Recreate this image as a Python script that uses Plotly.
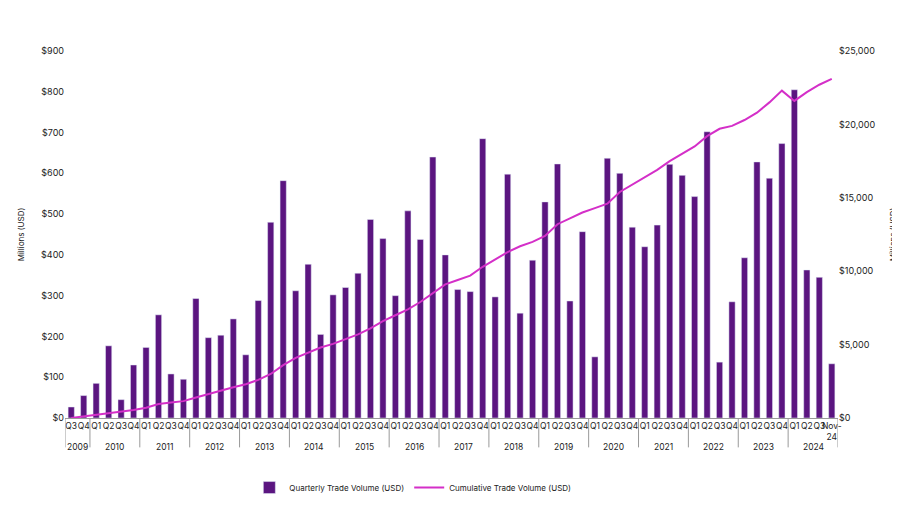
import plotly.graph_objects as go

years = ["2009"] * 2 + [str(y) for y in range(2010, 2024) for _ in range(4)] + ["2024"] * 4
quarters = ["Q3", "Q4"] + ["Q1", "Q2", "Q3", "Q4"] * 14 + ["Q1", "Q2", "Q3", "Nov-<br>24"]

quarterly = [27, 55,
             85, 177, 45, 130,
             173, 253, 108, 95,
             293, 197, 203, 243,
             155, 288, 480, 582,
             312, 377, 205, 302,
             320, 355, 487, 440,
             300, 508, 438, 640,
             400, 315, 310, 685,
             297, 598, 257, 387,
             530, 623, 287, 457,
             150, 637, 600, 468,
             420, 473, 622, 595,
             543, 702, 137, 285,
             393, 628, 588, 673,
             805, 363, 345, 133]

cumulative = [0, 100,
              200, 350, 450, 550,
              700, 950, 1050, 1150,
              1400, 1650, 1900, 2100,
              2300, 2600, 3000, 3600,
              4100, 4450, 4800, 5050,
              5350, 5700, 6100, 6600,
              7000, 7400, 7900, 8500,
              9100, 9400, 9700, 10300,
              10800, 11300, 11700, 12000,
              12400, 13200, 13600, 14000,
              14300, 14600, 15400, 15900,
              16400, 16900, 17500, 18000,
              18500, 19200, 19700, 19900,
              20300, 20800, 21500, 22300,
              21600, 22200, 22700, 23100]

idx = list(range(len(quarters)))

fig = go.Figure()
fig.add_trace(go.Bar(x=idx, y=quarterly, name="Quarterly Trade Volume (USD)",
                     marker_color="#5b1580", width=0.5))
fig.add_trace(go.Scatter(x=idx, y=cumulative, name="Cumulative Trade Volume (USD)",
                         mode="lines", line=dict(color="#d42fc8", width=2), yaxis="y2"))

# year labels and dividers under the quarter labels
groups = {}
for i, y in enumerate(years):
    groups.setdefault(y, []).append(i)
for y, ii in groups.items():
    fig.add_annotation(x=(ii[0] + ii[-1]) / 2, y=0, xref="x", yref="paper", yshift=-22,
                       text=y, showarrow=False, font=dict(size=8.5), yanchor="top")
    fig.add_shape(type="line", xref="x", yref="paper", x0=ii[0] - 0.5, x1=ii[0] - 0.5,
                  y0=0, y1=-0.08, line=dict(color="#999", width=1))
fig.add_shape(type="line", xref="x", yref="paper", x0=idx[-1] + 0.5, x1=idx[-1] + 0.5,
              y0=0, y1=-0.08, line=dict(color="#999", width=1))

fig.update_layout(
    width=900, height=506,
    margin=dict(l=43, r=68, t=43, b=75),
    plot_bgcolor="white", paper_bgcolor="white",
    font=dict(family="Inter", size=9, color="#222"),
    showlegend=True,
    legend=dict(orientation="h", x=0.45, xanchor="center", y=-0.15, yanchor="top",
                font=dict(size=8), traceorder="normal"),
    xaxis=dict(range=[-0.5, idx[-1] + 0.5], tickvals=idx, ticktext=quarters, tickangle=0,
               showline=True, linecolor="#999", tickfont=dict(size=8.5), ticklen=0,
               showgrid=False, zeroline=False),
    yaxis=dict(range=[0, 900], dtick=100, tickprefix="$", showgrid=False,
               title=dict(text="Millions (USD)", font=dict(size=8)), zeroline=False),
    yaxis2=dict(range=[0, 25000], dtick=5000, tickprefix="$", tickformat=",",
                overlaying="y", side="right", showgrid=False,
                title=dict(text="Millions (USD)", font=dict(size=8)), zeroline=False),
)

fig.write_html("out.html")
